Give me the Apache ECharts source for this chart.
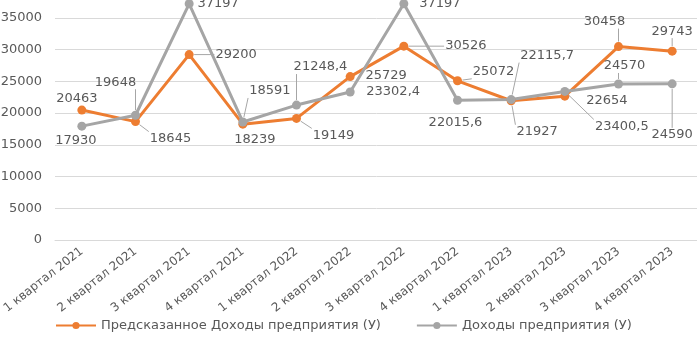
<!DOCTYPE html>
<html>
<head>
<meta charset="utf-8">
<script src="https://cdn.jsdelivr.net/npm/echarts@6/dist/echarts.min.js"></script>
<style>
  html, body { margin: 0; padding: 0; background: #fff; }
  #main { width: 697px; height: 337px; }
</style>
</head>
<body>
<div id="main"></div>
<script>
var categories = ['1 квартал 2021', '2 квартал 2021', '3 квартал 2021', '4 квартал 2021',
    '1 квартал 2022', '2 квартал 2022', '3 квартал 2022', '4 квартал 2022',
    '1 квартал 2023', '2 квартал 2023', '3 квартал 2023', '4 квартал 2023'];
var predicted = [20463, 18645, 29200, 18239, 19149, 25729, 30526, 25072, 21927, 22654, 30458, 29743];
var actual = [17930, 19648, 37197, 18591, 21248.4, 23302.4, 37197, 22015.6, 22115.7, 23400.5, 24570, 24590];
var predictedName = 'Предсказанное Доходы предприятия (У)';
var actualName = 'Доходы предприятия (У)';

// label offsets from the point (label centre), and whether a leader line is drawn
var predOffsets = [[-5, -11], [35, 17], [47, 0], [12, 15], [37, 17], [36, -1], [62, -1], [36, -9], [26, 31], [42, 4], [-14, -25], [0, -20]];
var predLeader = [0, 1, 1, 0, 1, 0, 1, 1, 1, 0, 1, 1];
var actOffsets = [[-6, 14], [-20, -33], [29, 0], [27, -31], [24, -38], [43, 0], [36, 0], [-2, 22], [36, -44], [57, 35], [6, -18], [0, 51]];
var actLeader = [0, 1, 0, 1, 1, 0, 0, 0, 1, 1, 1, 1];

function fmt(v) {
    return String(v).replace('.', ',');
}

// data labels with straight leader lines, placed from the axis coords of each point
function labelSeries(name, values, offsets, leader) {
    return {
        name: name,
        type: 'custom',
        z: 5,
        silent: true,
        data: values.map(function (v, i) { return [i, v]; }),
        renderItem: function (params, api) {
            var i = api.value(0);
            var v = api.value(1);
            var p = api.coord([i, v]);
            var o = offsets[i];
            var txt = fmt(v);
            var lx = p[0] + o[0], ly = p[1] + o[1];
            var hw = (txt.length * 8.3 - (txt.indexOf(',') >= 0 ? 4 : 0)) / 2 + 1;
            var hh = 7;
            var children = [];
            if (leader[i]) {
                var ex = Math.max(lx - hw, Math.min(p[0], lx + hw));
                var ey = Math.max(ly - hh, Math.min(p[1], ly + hh));
                var dx = ex - p[0], dy = ey - p[1];
                var len = Math.sqrt(dx * dx + dy * dy) || 1;
                children.push({
                    type: 'line',
                    shape: {x1: p[0] + dx / len * 5, y1: p[1] + dy / len * 5, x2: ex, y2: ey},
                    style: {stroke: '#a6a6a6', lineWidth: 1}
                });
            }
            children.push({
                type: 'text',
                x: lx,
                y: ly,
                style: {
                    text: txt,
                    fill: '#595959',
                    font: '13px "DejaVu Sans"',
                    align: 'center',
                    verticalAlign: 'middle'
                }
            });
            return {type: 'group', children: children};
        }
    };
}

var myChart = echarts.init(document.getElementById('main'));
var option = {
    animation: false,
    textStyle: {fontFamily: 'DejaVu Sans'},
    // the picture is cropped at the top: the 40000 line lies just above it
    grid: {left: 55, right: -2, top: -14, bottom: 97, containLabel: false, outerBoundsMode: 'none'},
    legend: {
        left: 50,
        bottom: 0,
        itemWidth: 40,
        itemHeight: 9,
        itemGap: 35,
        textStyle: {color: '#595959', fontSize: 13, fontFamily: 'DejaVu Sans'},
        data: [predictedName, actualName]
    },
    xAxis: {
        type: 'category',
        data: categories,
        axisLine: {lineStyle: {color: '#d9d9d9'}},
        axisTick: {show: false},
        axisLabel: {interval: 0, rotate: 38, margin: 10, color: '#595959', fontSize: 12}
    },
    yAxis: {
        type: 'value',
        min: 0,
        max: 40000,
        interval: 5000,
        axisLine: {show: false},
        axisTick: {show: false},
        axisLabel: {color: '#595959', fontSize: 13, margin: 13, formatter: function (v) { return String(v); }},
        splitLine: {lineStyle: {color: '#d9d9d9'}}
    },
    series: [
        {
            name: predictedName,
            type: 'line',
            data: predicted,
            symbol: 'circle',
            symbolSize: 9,
            lineStyle: {color: '#ED7D31', width: 3},
            itemStyle: {color: '#ED7D31'}
        },
        {
            name: actualName,
            type: 'line',
            data: actual,
            symbol: 'circle',
            symbolSize: 9,
            lineStyle: {color: '#A5A5A5', width: 3},
            itemStyle: {color: '#A5A5A5'}
        },
        labelSeries('predLabels', predicted, predOffsets, predLeader),
        labelSeries('actLabels', actual, actOffsets, actLeader)
    ]
};
myChart.setOption(option);
</script>
</body>
</html>
